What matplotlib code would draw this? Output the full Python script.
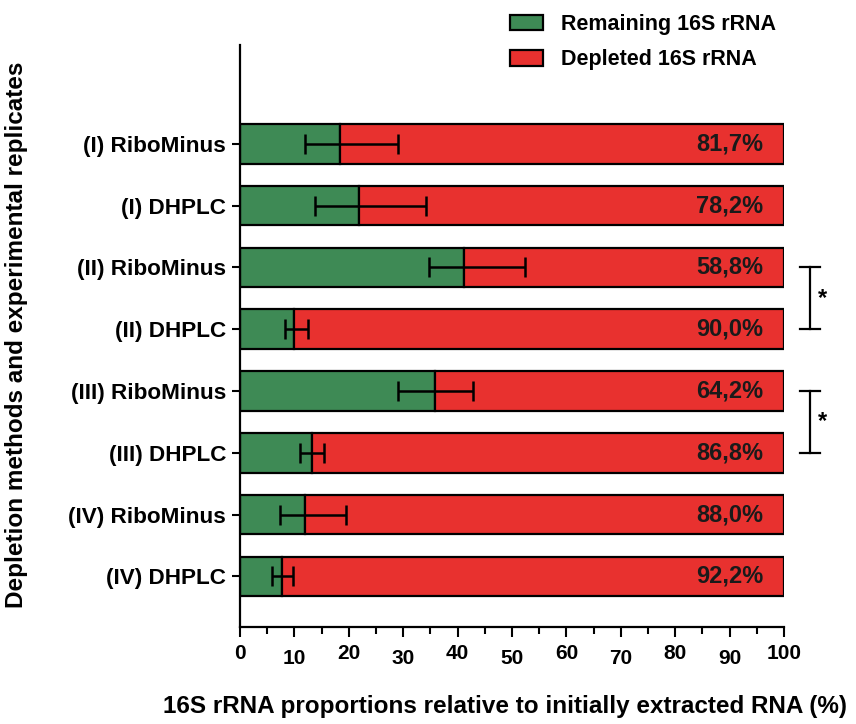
import matplotlib
matplotlib.use("Agg")
import matplotlib.pyplot as plt
from matplotlib.patches import Patch
from matplotlib.transforms import ScaledTranslation

plt.rcParams['font.family'] = ['Liberation Sans', 'DejaVu Sans']
plt.rcParams['font.weight'] = 'bold'

categories = ["(I) RiboMinus", "(I) DHPLC", "(II) RiboMinus", "(II) DHPLC",
              "(III) RiboMinus", "(III) DHPLC", "(IV) RiboMinus", "(IV) DHPLC"]
depleted = [81.7, 78.2, 58.8, 90.0, 64.2, 86.8, 88.0, 92.2]
remaining = [100 - d for d in depleted]
err_low = [6.3, 8.0, 6.4, 1.7, 6.8, 2.1, 4.6, 1.9]
err_high = [10.8, 12.4, 11.1, 2.5, 7.0, 2.3, 7.4, 1.9]
xticks = [0, 10, 20, 30, 40, 50, 60, 70, 80, 90, 100]
sig_pairs = [(2, 3), (4, 5)]

green = "#3e8a55"
red = "#e8312f"

W, H = 856, 724
AX_BOTTOM, AX_TOP = 627, 45
fig = plt.figure(figsize=(W / 100, H / 100), dpi=100)
ax = fig.add_axes([240 / W, 1 - AX_BOTTOM / H, 544 / W, (AX_BOTTOM - AX_TOP) / H])

y = list(range(len(categories)))
bh = 0.64
ax.barh(y, remaining, height=bh, color=green, edgecolor="black", linewidth=1.6, zorder=2)
ax.barh(y, depleted, left=remaining, height=bh, color=red, edgecolor="black", linewidth=1.6, zorder=2)
ax.errorbar(remaining, y, xerr=[err_low, err_high], fmt="none", ecolor="black",
            elinewidth=1.8, capsize=7.5, capthick=1.8, zorder=3)

for yi, d in zip(y, depleted):
    ax.text(96.2, yi, f"{d:.1f}%".replace(".", ","), ha="right", va="center",
            fontsize=17, fontweight="bold", color="#1a1a1a", zorder=4)

# significance brackets
for a, b in sig_pairs:
    ax.plot([104.8, 104.8], [a, b], color="black", lw=1.6, clip_on=False)
    ax.plot([102.9, 106.6], [a, a], color="black", lw=1.6, clip_on=False)
    ax.plot([102.9, 106.6], [b, b], color="black", lw=1.6, clip_on=False)
    ax.text(107.0, (a + b) / 2, "*", ha="center", va="center", fontsize=17,
            fontweight="bold", clip_on=False)

ax.set_xlim(0, 100)
ax.set_ylim(7.82, -1.6)
ax.set_yticks(y)
ax.set_yticklabels(categories, fontsize=16.2, fontweight="bold")
ax.set_xticks(xticks)
ax.set_xticks([5, 15, 25, 35, 45, 55, 65, 75, 85, 95], minor=True)
ax.set_xticklabels([str(t) for t in xticks], fontsize=15, fontweight="bold")
ax.tick_params(axis="x", which="major", length=7.5, width=1.5, pad=5)
ax.tick_params(axis="x", which="minor", length=5, width=1.5)
ax.tick_params(axis="y", length=6, width=1.5, pad=4)
for i, lbl in enumerate(ax.get_xticklabels()):
    if i % 2 == 1:
        lbl.set_transform(lbl.get_transform() +
                          ScaledTranslation(0, -3 / 72, fig.dpi_scale_trans))
for s in ["top", "right"]:
    ax.spines[s].set_visible(False)
for s in ["left", "bottom"]:
    ax.spines[s].set_linewidth(1.6)

ax.set_xlabel("16S rRNA proportions relative to initially extracted RNA (%)",
              fontsize=17.5, fontweight="bold", va="center")
ax.xaxis.set_label_coords((505 - 240) / 544, (AX_BOTTOM - 706) / (AX_BOTTOM - AX_TOP))
ax.set_ylabel("Depletion methods and experimental replicates",
              fontsize=17.5, fontweight="bold", va="center")
ax.yaxis.set_label_coords((16 - 240) / 544, (AX_BOTTOM - 335) / (AX_BOTTOM - AX_TOP))

handles = [Patch(facecolor=green, edgecolor="black", linewidth=1.6),
           Patch(facecolor=red, edgecolor="black", linewidth=1.6)]
fig.legend(handles, ["Remaining 16S rRNA", "Depleted 16S rRNA"],
           loc="upper left", bbox_to_anchor=(510 / W, 1 - 14 / H),
           frameon=False, handlelength=1.53, handleheight=0.74,
           handletextpad=0.84, labelspacing=0.67, borderpad=0, borderaxespad=0,
           prop={"weight": "bold", "size": 15.5})

fig.savefig("out.png", dpi=100)
